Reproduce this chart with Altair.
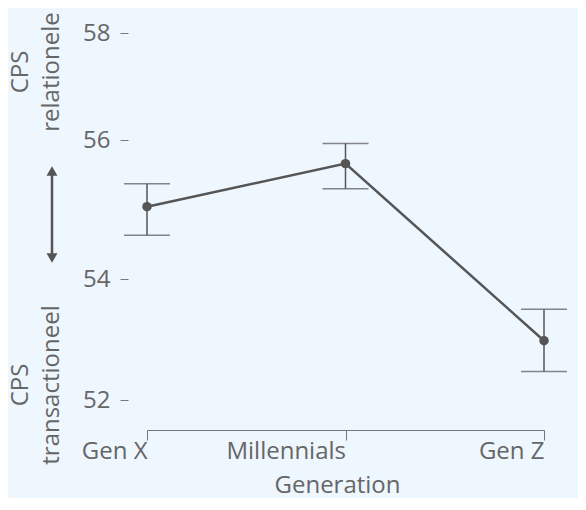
import altair as alt
import pandas as pd

generations = ["Gen X", "Millennials", "Gen Z"]
means = [55.04, 55.66, 52.98]
lower = [54.63, 55.30, 52.47]
upper = [55.37, 55.95, 53.50]
y_ticks = [52, 54, 56, 58]

df = pd.DataFrame({"Generation": generations, "mean": means, "lo": lower, "hi": upper})

FONT = "Open Sans"
TEXT = "#666666"
INK = "#555555"
BG = "#EEF6FE"
FS = 24

x_enc = alt.X(
    "Generation:N",
    sort=generations,
    scale=alt.Scale(type="point", padding=0),
    axis=alt.Axis(
        title="Generation", labelAngle=0, domainColor="#777777", domainWidth=1,
        tickColor="#777777", tickSize=10, labelPadding=11, titlePadding=10,
        labelFontSize=FS, titleFontSize=FS, labelColor=TEXT, titleColor=TEXT,
        titleFontWeight="normal", labelFont=FONT, titleFont=FONT, grid=False,
        titleX=190,
    ),
)
y_scale = alt.Scale(domain=y_ticks, range=[382, 261, 122, 15], nice=False, zero=False)
y_enc = alt.Y(
    "mean:Q", scale=y_scale,
    axis=alt.Axis(
        values=y_ticks, format="d", title=None, domain=False, tickSize=8, offset=19,
        tickColor="#777777", labelPadding=10, labelFontSize=FS, labelColor=TEXT,
        labelFont=FONT, grid=False,
    ),
)

base = alt.Chart(df)
line = base.mark_line(color=INK, strokeWidth=2.5).encode(x=x_enc, y=y_enc)
bars = base.mark_rule(color=INK, strokeWidth=1.5).encode(
    x=alt.X("Generation:N", sort=generations), y=alt.Y("lo:Q", scale=y_scale), y2="hi:Q")
cap_lo = base.mark_tick(color=INK, orient="horizontal", size=46, thickness=1.5).encode(
    x=alt.X("Generation:N", sort=generations), y=alt.Y("lo:Q", scale=y_scale))
cap_hi = base.mark_tick(color=INK, orient="horizontal", size=46, thickness=1.5).encode(
    x=alt.X("Generation:N", sort=generations), y=alt.Y("hi:Q", scale=y_scale))
pts = base.mark_circle(color=INK, size=90, opacity=1).encode(
    x=alt.X("Generation:N", sort=generations), y=alt.Y("mean:Q", scale=y_scale))


def label(text, xv, yv):
    return alt.Chart(pd.DataFrame({"t": [text]})).mark_text(
        angle=270, align="center", baseline="middle", fontSize=FS, font=FONT, color=TEXT
    ).encode(text="t:N", x=alt.value(xv), y=alt.value(yv))


one = pd.DataFrame({"a": [0]})
arrow_shaft = alt.Chart(one).mark_rule(color=INK, strokeWidth=2.5).encode(
    x=alt.value(-95), y=alt.value(154), y2=alt.value(239))
arrow_up = alt.Chart(one).mark_point(shape="triangle-up", filled=True, color=INK, size=120, opacity=1).encode(
    x=alt.value(-95), y=alt.value(153))
arrow_down = alt.Chart(one).mark_point(shape="triangle-down", filled=True, color=INK, size=120, opacity=1).encode(
    x=alt.value(-95), y=alt.value(240))

chart = alt.layer(
    bars, cap_lo, cap_hi, line, pts,
    label("CPS", -126, 54), label("relationele", -95, 54),
    label("CPS", -126, 367), label("transactioneel", -95, 367),
    arrow_shaft, arrow_up, arrow_down,
).properties(
    width=397, height=412, background=BG,
    autosize=alt.AutoSizeParams(type="none"),
    padding={"left": 139, "top": 10, "right": 34, "bottom": 68},
).configure_view(stroke=None)

chart.save("out.html", embed_options={"renderer": "svg", "actions": False})
